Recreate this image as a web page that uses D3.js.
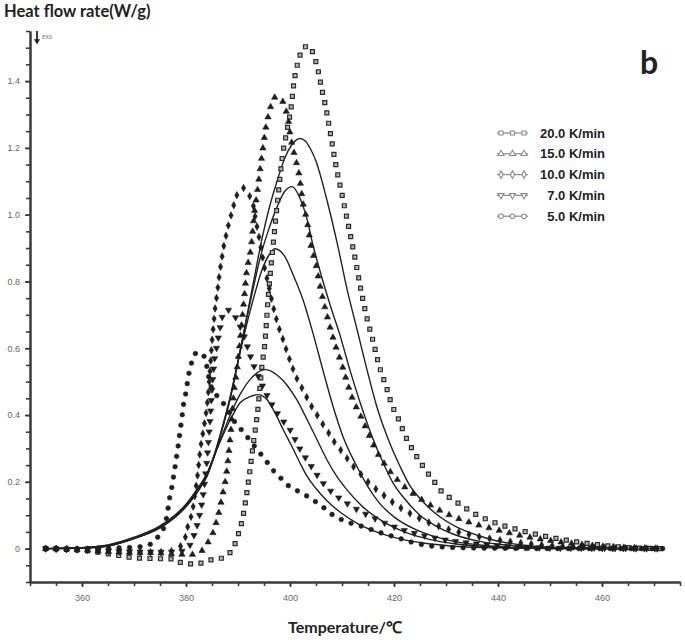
<!DOCTYPE html>
<html lang="en">
<head>
<meta charset="utf-8">
<title>Heat flow rate vs temperature</title>
<style>
  body { margin: 0; background: #fff; }
  svg { display: block; }
  .axis path, .axis line { stroke: #3a3a3a; }
  .axis path { stroke-width: 2; }
  .axis line { stroke-width: 1.6; }
  .axis text { fill: #666; font-family: "Liberation Sans", Arial, sans-serif; font-size: 9px; }
  .model { fill: none; stroke: #222; stroke-width: 1.4; }
  .lab { font-family: Lato, "Open Sans", sans-serif; font-weight: bold; fill: #222; }
  .leg { font-family: "Liberation Sans Narrow", "Liberation Sans", Arial, sans-serif; font-weight: bold; font-size: 13px; fill: #222; }
</style>
</head>
<body>
<svg width="685" height="640"></svg>
<script src="https://cdn.jsdelivr.net/npm/d3@7/dist/d3.min.js"></script>
<script>
// measured curves (temperature in C, heat flow in W/g)
var sq20 = [[353,0],[358,-0.003],[362,-0.008],[366,-0.018],[370,-0.027],[374,-0.03],[378,-0.031],[379.3,-0.044],[382,-0.046],[383.5,-0.04],[385,-0.033],[387,-0.028],[388.3,-0.015],[389,0],[390,0.04],[391,0.1],[392,0.2],[393,0.32],[393.7,0.4],[394.6,0.545],[395.2,0.62],[395.8,0.75],[396.7,0.9],[397.6,1.04],[398.5,1.17],[399.4,1.25],[400.2,1.32],[400.8,1.4],[401.7,1.465],[402.6,1.5],[403.7,1.505],[404.4,1.485],[405.2,1.445],[406.2,1.37],[406.9,1.32],[407.7,1.25],[408.8,1.15],[410.2,1.045],[411.2,0.97],[412.5,0.87],[413.7,0.77],[414.8,0.69],[416,0.62],[417.1,0.55],[418.5,0.485],[419.6,0.43],[420.8,0.39],[422.1,0.34],[424,0.285],[426,0.237],[427.9,0.197],[429.4,0.167],[431.3,0.147],[433.3,0.126],[435.2,0.107],[437.9,0.087],[440.4,0.072],[443.7,0.057],[447.5,0.042],[452.5,0.027],[459,0.012],[465.4,0.003],[471.7,0]];
var tri15 = [[353,0],[358,-0.002],[362,-0.006],[366,-0.01],[370,-0.012],[374,-0.013],[378,-0.017],[381,-0.018],[382.7,-0.01],[383.3,-0.003],[384.2,0.018],[385.2,0.048],[385.8,0.078],[386.3,0.107],[386.7,0.137],[387.1,0.167],[387.5,0.197],[387.9,0.24],[388.3,0.3],[388.6,0.347],[388.9,0.41],[389.2,0.467],[389.8,0.536],[390.4,0.625],[391.1,0.735],[391.7,0.835],[392.3,0.88],[392.7,0.93],[393.1,1.0],[393.7,1.066],[394.2,1.13],[394.8,1.2],[395.4,1.265],[395.9,1.3],[396.5,1.335],[397.3,1.353],[398.3,1.348],[399,1.32],[399.6,1.29],[400,1.245],[401,1.17],[401.7,1.125],[402.5,1.035],[403.3,0.98],[404,0.91],[405,0.85],[405.8,0.785],[406.3,0.75],[407.5,0.675],[408.7,0.61],[410,0.55],[411,0.497],[412.1,0.446],[413.5,0.4],[415,0.347],[416.7,0.29],[418.7,0.242],[421.2,0.197],[425,0.15],[430,0.105],[435,0.076],[440,0.055],[445,0.037],[450,0.024],[455,0.014],[460,0.007],[465,0.003],[471.7,0]];
var dia10 = [[353,0],[358,-0.002],[362,-0.005],[366,-0.008],[370,-0.01],[374,-0.011],[377,-0.008],[378.8,0.005],[379.8,0.03],[380.4,0.07],[381.2,0.11],[381.7,0.16],[382.3,0.23],[382.7,0.29],[383.4,0.36],[384.1,0.437],[384.6,0.527],[385,0.62],[385.3,0.67],[385.6,0.72],[386,0.765],[386.3,0.805],[386.6,0.84],[386.9,0.87],[387.2,0.9],[387.6,0.93],[388.1,0.965],[388.8,1.006],[389.4,1.04],[390,1.066],[391,1.08],[392.3,1.054],[392.9,1.03],[393.4,0.985],[394.2,0.92],[395,0.85],[396,0.78],[397,0.71],[398,0.655],[398.8,0.62],[399.5,0.585],[400.3,0.55],[401,0.52],[402,0.49],[403,0.46],[404,0.43],[405,0.405],[406,0.38],[407.5,0.345],[408.5,0.32],[409.5,0.3],[410.5,0.28],[411.5,0.26],[412.5,0.24],[413.8,0.22],[415,0.2],[418,0.16],[421,0.125],[425,0.09],[430,0.06],[435,0.04],[440,0.026],[445,0.016],[450,0.009],[455,0.005],[460,0.002],[471.7,0]];
var inv7 = [[353,0],[358,-0.002],[362,-0.004],[366,-0.007],[370,-0.009],[374,-0.01],[377,-0.01],[379,-0.008],[380.3,0],[381.3,0.03],[382.3,0.08],[383.2,0.15],[384,0.26],[384.6,0.38],[385.1,0.5],[385.6,0.58],[386,0.61],[386.3,0.64],[386.6,0.665],[387.1,0.7],[388,0.715],[389.2,0.7],[390.4,0.665],[391.2,0.635],[391.8,0.605],[392.4,0.575],[394.2,0.505],[396,0.446],[398,0.395],[400,0.356],[401,0.326],[402,0.296],[403.5,0.26],[404.5,0.237],[405.8,0.207],[408,0.17],[411,0.135],[414,0.108],[417,0.085],[421,0.06],[425,0.042],[430,0.026],[435,0.016],[440,0.009],[445,0.005],[450,0.002],[460,0.001],[471.7,0]];
var circ5 = [[353,0],[358,0],[362,0.001],[366,0.002],[370,0.004],[372,0.008],[373.7,0.018],[374.6,0.035],[375.4,0.05],[375.8,0.066],[376.3,0.096],[376.6,0.126],[376.9,0.156],[377.3,0.186],[377.6,0.215],[377.9,0.245],[378.3,0.287],[378.6,0.32],[378.9,0.356],[379.2,0.39],[379.5,0.43],[379.9,0.46],[380.2,0.49],[380.5,0.52],[380.9,0.545],[381.4,0.575],[382.2,0.587],[383,0.585],[383.7,0.566],[384.2,0.53],[384.6,0.497],[385.3,0.47],[386.5,0.45],[388,0.415],[389.8,0.37],[391,0.35],[392,0.33],[393,0.31],[394,0.29],[395,0.272],[396,0.25],[397,0.23],[398,0.215],[399,0.197],[401,0.177],[403.7,0.153],[406.2,0.126],[408.3,0.1],[411,0.08],[414,0.066],[417.3,0.048],[420.6,0.033],[423.7,0.018],[427,0.008],[432,0.003],[440,0.001],[450,0],[471.7,0]];

// fitted curves (solid lines)
var fit20 = [[353,0],[360,0.002],[365,0.008],[370,0.03],[375,0.062],[378,0.095],[380,0.125],[382,0.165],[384,0.215],[385.5,0.28],[387,0.36],[388.5,0.45],[390,0.56],[391.5,0.68],[393,0.8],[394.5,0.92],[396,1.02],[397.7,1.11],[399,1.17],[400.4,1.21],[401.9,1.228],[403,1.22],[404,1.195],[405,1.16],[407,1.05],[409,0.92],[411,0.775],[412.9,0.656],[414.8,0.536],[416.7,0.425],[418.7,0.335],[421.2,0.245],[423,0.19],[425,0.15],[428,0.105],[432,0.065],[436,0.04],[440,0.022],[445,0.01],[450,0.004],[460,0.001],[471.7,0]];
var fit15 = [[353,0],[360,0.002],[365,0.008],[370,0.03],[375,0.063],[378,0.096],[380,0.126],[382,0.167],[384,0.217],[385.5,0.28],[387,0.36],[388.5,0.45],[390,0.56],[391.5,0.675],[393,0.785],[394.5,0.885],[396,0.96],[397.7,1.03],[399,1.07],[400.4,1.084],[401.9,1.05],[403.3,0.985],[404.4,0.91],[405.8,0.83],[407.7,0.73],[409.6,0.64],[411.5,0.536],[413.5,0.437],[415.8,0.335],[417.9,0.257],[419.8,0.197],[422,0.15],[425,0.1],[428,0.068],[432,0.04],[436,0.023],[440,0.013],[445,0.006],[450,0.002],[460,0],[471.7,0]];
var fit10 = [[353,0],[360,0.003],[365,0.009],[370,0.031],[375,0.064],[378,0.097],[380,0.128],[382,0.17],[384,0.22],[385.5,0.285],[387,0.365],[388.5,0.455],[390,0.56],[391.5,0.66],[393,0.75],[394.5,0.83],[396,0.88],[397.1,0.898],[399,0.875],[400.6,0.82],[402.5,0.745],[404.4,0.646],[406.3,0.536],[408.3,0.425],[410.2,0.335],[412.9,0.245],[414.8,0.19],[417,0.14],[420,0.095],[424,0.058],[428,0.035],[432,0.02],[437,0.01],[442,0.004],[450,0.001],[471.7,0]];
var fit7 = [[353,0],[360,0.003],[365,0.01],[370,0.032],[375,0.066],[378,0.1],[380,0.13],[382,0.172],[384,0.222],[386,0.3],[388.5,0.4],[390.5,0.465],[392.3,0.506],[395.2,0.536],[397.5,0.52],[399.4,0.49],[401.3,0.446],[403.3,0.386],[405.2,0.326],[407.1,0.266],[409,0.216],[411,0.175],[414,0.125],[418,0.08],[422,0.05],[427,0.027],[432,0.014],[438,0.006],[445,0.002],[455,0],[471.7,0]];
var fit5 = [[353,0],[360,0.003],[365,0.011],[370,0.034],[375,0.068],[378,0.102],[380,0.133],[382,0.175],[384,0.225],[386,0.3],[388.5,0.385],[390.4,0.437],[392.3,0.455],[393.8,0.461],[395.6,0.446],[397.1,0.407],[398.7,0.356],[400.4,0.305],[401.9,0.257],[403.3,0.216],[405,0.18],[407,0.145],[410,0.105],[413,0.075],[417,0.048],[421,0.03],[426,0.016],[431,0.008],[437,0.003],[445,0.001],[471.7,0]];

var rateLabels = ["20.0 K/min", "15.0 K/min", "10.0 K/min", "7.0 K/min", "5.0 K/min"];
var xTicks = [360, 380, 400, 420, 440, 460];
var yTicks = [0, 0.2, 0.4, 0.6, 0.8, 1.0, 1.2, 1.4];

var svg = d3.select("svg"),
    margin = {top: 31, right: 5, bottom: 58, left: 30},
    width = +svg.attr("width") - margin.left - margin.right,
    height = +svg.attr("height") - margin.top - margin.bottom;

var x = d3.scaleLinear().domain([350, 475]).range([0, width]),
    y = d3.scaleLinear().domain([-0.1, 1.55]).range([height, 0]);

var g = svg.append("g")
    .attr("transform", "translate(" + margin.left + "," + margin.top + ")");

var line = d3.line()
    .x(function(d) { return x(d[0]); })
    .y(function(d) { return y(d[1]); })
    .curve(d3.curveMonotoneX);

// minor ticks first, then labelled ticks on top
g.append("g")
    .attr("class", "axis")
    .attr("transform", "translate(0," + height + ")")
    .call(d3.axisBottom(x).tickValues(d3.range(350, 476, 5)).tickSize(4).tickSizeOuter(0).tickFormat(""));
g.append("g")
    .attr("class", "axis")
    .attr("transform", "translate(0," + height + ")")
    .call(d3.axisBottom(x).tickValues(xTicks).tickSize(5).tickSizeOuter(0).tickPadding(8));

g.append("g")
    .attr("class", "axis")
    .call(d3.axisLeft(y).tickValues(d3.range(-0.1, 1.56, 0.05)).tickSize(4).tickSizeOuter(0).tickFormat(""));
g.append("g")
    .attr("class", "axis")
    .call(d3.axisLeft(y).tickValues(yTicks).tickSize(5).tickSizeOuter(0).tickPadding(5)
      .tickFormat(function(d) { return d === 0 ? "0" : d3.format(".1f")(d); }));

// solid model curves
[fit20, fit15, fit10, fit7, fit5].forEach(function(s) {
  g.append("path").attr("class", "model").attr("d", line(s));
});

// dotted measured curves: symbols spaced evenly along each curve
function along(data, step) {
  var p = g.append("path").attr("d", line(data)).attr("fill", "none"),
      node = p.node(), len = node.getTotalLength(), pts = [];
  for (var s = 0; s <= len; s += step) {
    var q = node.getPointAtLength(s);
    pts.push([q.x, q.y]);
  }
  p.remove();
  return pts;
}

var series = [
  {data: sq20, type: d3.symbolSquare, size: 16, rot: 0, fill: "#b5b5b5", stroke: "#2a2a2a", sw: 1.2},
  {data: tri15, type: d3.symbolTriangle, size: 17, rot: 0, fill: "#1e1e1e", stroke: "#1e1e1e", sw: 0.6},
  {data: dia10, type: d3.symbolDiamond, size: 16, rot: 0, fill: "#1e1e1e", stroke: "#1e1e1e", sw: 0.6},
  {data: inv7, type: d3.symbolTriangle, size: 17, rot: 180, fill: "#1e1e1e", stroke: "#1e1e1e", sw: 0.6},
  {data: circ5, type: d3.symbolCircle, size: 17, rot: 0, fill: "#1e1e1e", stroke: "#1e1e1e", sw: 0.6}
];

series.forEach(function(s) {
  g.append("g").selectAll("path")
    .data(along(s.data, 10.5))
    .enter().append("path")
      .attr("transform", function(d) { return "translate(" + d[0] + "," + d[1] + ") rotate(" + s.rot + ")"; })
      .attr("d", d3.symbol().type(s.type).size(s.size))
      .attr("fill", s.fill)
      .attr("stroke", s.stroke)
      .attr("stroke-width", s.sw);
});

// legend
var leg = svg.append("g").attr("transform", "translate(497,133)");
var row = leg.selectAll("g").data(series)
  .enter().append("g")
    .attr("transform", function(d, i) { return "translate(0," + (i * 20.8) + ")"; });
row.append("line").attr("x1", 0).attr("x2", 31).attr("stroke", "#8a8a8a").attr("stroke-width", 1.2);
row.each(function(s) {
  d3.select(this).selectAll("path").data([4, 15.5, 27])
    .enter().append("path")
      .attr("transform", function(d) { return "translate(" + d + ",0) rotate(" + s.rot + ")"; })
      .attr("d", d3.symbol().type(s.type).size(16))
      .attr("fill", "#fff")
      .attr("stroke", "#8a8a8a")
      .attr("stroke-width", 1.1);
});
row.append("text")
    .attr("class", "leg")
    .attr("x", 108)
    .attr("dy", "0.36em")
    .attr("text-anchor", "end")
    .text(function(d, i) { return rateLabels[i]; });

// labels
svg.append("text").attr("class", "lab").attr("x", 4).attr("y", 17).style("font-size", "16.5px").text("Heat flow rate(W/g)");
svg.append("text").attr("class", "lab").attr("x", 345).attr("y", 633)
    .attr("text-anchor", "middle").style("font-size", "16px").text("Temperature/\u2103");
svg.append("text").attr("class", "lab").attr("x", 649).attr("y", 74)
    .attr("text-anchor", "middle").style("font-size", "32px").text("b");

// exo arrow
svg.append("line").attr("x1", 37).attr("x2", 37).attr("y1", 31).attr("y2", 41).attr("stroke", "#222").attr("stroke-width", 1.8);
svg.append("path").attr("d", d3.symbol().type(d3.symbolTriangle).size(16)).attr("transform", "translate(37,41) rotate(180)").attr("fill", "#222");
svg.append("text").attr("x", 42).attr("y", 39).style("font-size", "6.5px").style("font-family", "Liberation Sans, sans-serif").attr("fill", "#777").text("exo");
</script>
</body>
</html>
